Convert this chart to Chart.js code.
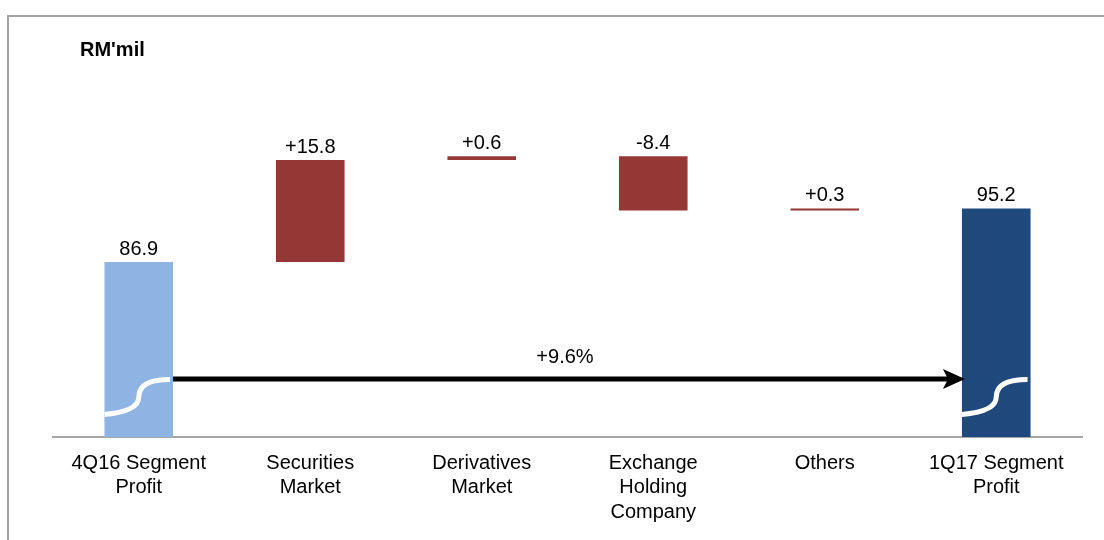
<!DOCTYPE html>
<html>
<head>
<meta charset="utf-8">
<title>Segment Profit Bridge</title>
<script src="https://cdn.jsdelivr.net/npm/chart.js@4/dist/chart.umd.min.js"></script>
<style>
    html, body { margin: 0; padding: 0; background: #ffffff; overflow: hidden; }
    #frame {
        position: absolute; left: 7px; top: 15px; width: 1200px; height: 600px;
        border-left: 2px solid #a3a3a3; border-top: 2px solid #a3a3a3;
    }
    #wrap { position: absolute; left: 0; top: 0; width: 1104px; height: 540px; }
</style>
</head>
<body>
<div id="frame"></div>
<div id="wrap"><canvas id="bridgeChart"></canvas></div>
<script>
/* 4Q16 -> 1Q17 segment profit bridge (waterfall with broken axis) */

// ── Data ──────────────────────────────────────────────────────────────────
const categories = [
    ['4Q16 Segment', 'Profit'],
    ['Securities', 'Market'],
    ['Derivatives', 'Market'],
    ['Exchange', 'Holding', 'Company'],
    ['Others'],
    ['1Q17 Segment', 'Profit']
];
const startValue  = 86.9;
const changes     = [15.8, 0.6, -8.4, 0.3];
const endValue    = 95.2;
const growthLabel = '+9.6%';
const unitLabel   = "RM'mil";

// broken value axis: where it starts / ends, and where the break + arrow sit
const axisMin    = 59.8;
const axisMax    = 118.2;
const breakLow   = 63.3;
const breakHigh  = 68.7;
const arrowLevel = 68.8;

const colStart = '#8db4e2';
const colDelta = '#953735';
const colEnd   = '#1f497d';

// ── Build floating bars ───────────────────────────────────────────────────
const bars = [[axisMin, startValue]];
const valueLabels = [startValue.toFixed(1)];
let running = startValue;
changes.forEach(c => {
    bars.push([running, running + c]);
    valueLabels.push((c >= 0 ? '+' : '') + c.toFixed(1));
    running += c;
});
bars.push([axisMin, endValue]);
valueLabels.push(endValue.toFixed(1));

const barColors = bars.map((b, i) =>
    i === 0 ? colStart : (i === bars.length - 1 ? colEnd : colDelta));

const FONT = 'Liberation Sans, Arial, Helvetica, sans-serif';
Chart.defaults.font.family = FONT;
Chart.defaults.font.size = 20;
Chart.defaults.color = '#000000';

// ── Overlay: value labels, axis breaks, growth arrow, unit ────────────────
const bridgeOverlay = {
    id: 'bridgeOverlay',
    afterDatasetsDraw(chart) {
        const c = chart.ctx;
        const y = chart.scales.y;
        const els = chart.getDatasetMeta(0).data;

        c.save();
        c.font = '20px ' + FONT;
        c.fillStyle = '#000';
        c.textAlign = 'center';
        c.textBaseline = 'alphabetic';
        els.forEach((el, i) => {
            const top = Math.min(el.y, el.base);
            c.fillText(valueLabels[i], el.x, top - 7);
        });

        // white S-shaped break marks on the two total bars
        const yLo = y.getPixelForValue(breakLow);
        const yHi = y.getPixelForValue(breakHigh);
        [els[0], els[els.length - 1]].forEach(el => {
            const l = el.x - el.width / 2, r = el.x + el.width / 2 - 3;
            const mid = el.x;
            const ym = (yLo + yHi) / 2;
            c.beginPath();
            c.moveTo(l, yLo);
            c.quadraticCurveTo(mid, yLo - 3, mid, ym);
            c.quadraticCurveTo(mid, yHi, r, yHi);
            c.strokeStyle = '#ffffff';
            c.lineWidth = 5;
            c.stroke();
        });

        // growth arrow between the totals
        const a0 = els[0], a1 = els[els.length - 1];
        const ay = y.getPixelForValue(arrowLevel);
        const x0 = a0.x + a0.width / 2;
        const tip = a1.x - a1.width / 2 + 3;
        c.beginPath();
        c.moveTo(x0, ay);
        c.lineTo(tip - 16, ay);
        c.strokeStyle = '#000';
        c.lineWidth = 5;
        c.stroke();
        c.beginPath();
        c.moveTo(tip, ay);
        c.lineTo(tip - 22, ay - 10);
        c.lineTo(tip - 17, ay);
        c.lineTo(tip - 22, ay + 10);
        c.closePath();
        c.fillStyle = '#000';
        c.fill();
        c.fillText(growthLabel, (x0 + tip) / 2 - 4, ay - 16);

        // unit label
        c.font = 'bold 20px ' + FONT;
        c.textAlign = 'left';
        c.fillText(unitLabel, 80, 56);
        c.restore();
    }
};

// ── Chart ─────────────────────────────────────────────────────────────────
const ctx = document.getElementById('bridgeChart').getContext('2d');
const chart = new Chart(ctx, {
    type: 'bar',
    data: {
        labels: categories,
        datasets: [{
            data: bars,
            backgroundColor: barColors,
            borderWidth: 0,
            barPercentage: 0.4,
            categoryPercentage: 1.0
        }]
    },
    options: {
        responsive: true,
        maintainAspectRatio: false,
        animation: false,
        layout: { padding: { left: 53, right: 22, top: 60, bottom: 0 } },
        plugins: {
            legend: { display: false },
            tooltip: { enabled: false }
        },
        scales: {
            x: {
                grid: { display: false, drawTicks: false },
                border: { display: true, color: '#a6a6a6', width: 2 },
                ticks: { color: '#000', font: { size: 20, lineHeight: 1.22 }, padding: 14, maxRotation: 0, autoSkip: false },
                afterFit(scale) { scale.height = 103; }
            },
            y: {
                display: false,
                min: axisMin,
                max: axisMax
            }
        }
    },
    plugins: [bridgeOverlay]
});
</script>
</body>
</html>
